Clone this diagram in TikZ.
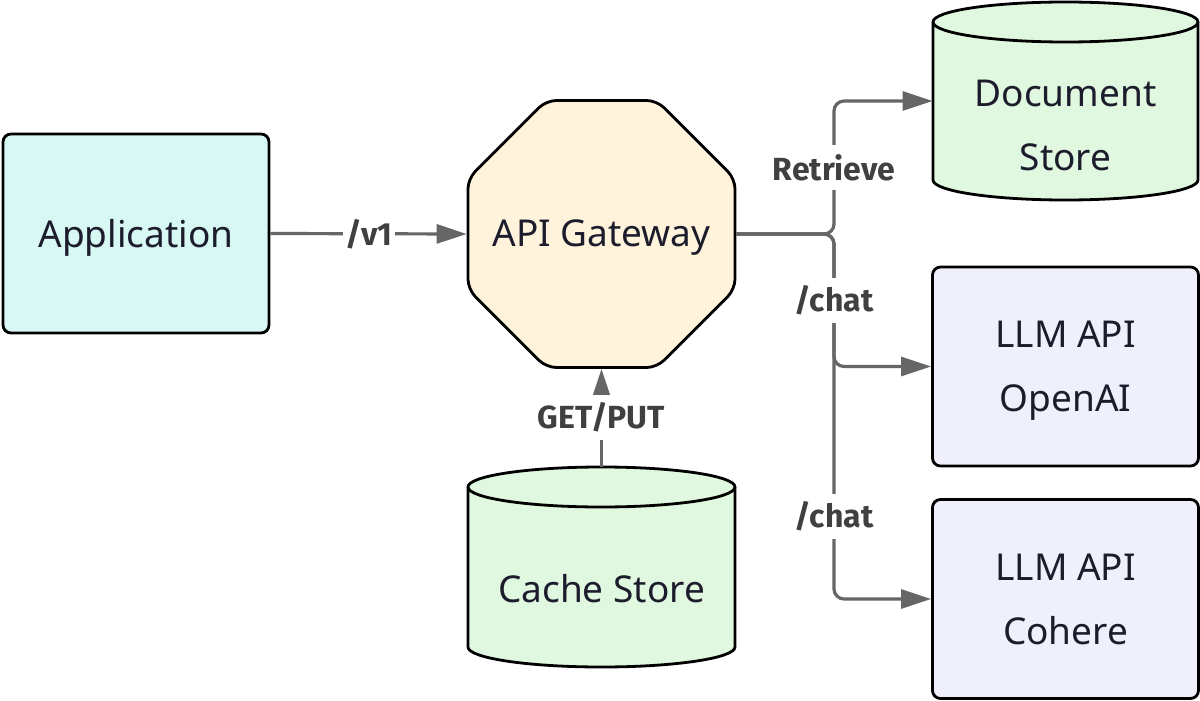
\documentclass[tikz,border=0pt]{standalone}
\usepackage{fontspec}
\setmainfont{Noto Sans}
\newfontfamily\labfont{Fira Sans}
\usetikzlibrary{arrows.meta,shapes.geometric}
\definecolor{appfill}{HTML}{D7F8F3}
\definecolor{gwfill}{HTML}{FFF3DC}
\definecolor{greenfill}{HTML}{E1F8E0}
\definecolor{lavfill}{HTML}{F0F0FC}
\definecolor{conncol}{HTML}{666666}
\definecolor{labcol}{HTML}{404040}
\definecolor{txtcol}{HTML}{1C1C2C}
\tikzset{
  nodetext/.style={font=\fontsize{18.5pt}{32pt}\selectfont, text=txtcol, align=center},
  boxnode/.style={nodetext, text depth=0pt, draw=black, line width=1.4pt, rounded corners=4pt, minimum width=133pt, minimum height=99.5pt, inner sep=0pt},
  cylarea/.style={nodetext, minimum width=132.5pt, minimum height=99pt, inner sep=0pt},
  cylbody/.style={draw=black, line width=1.4pt, fill=greenfill},
  octnode/.style={regular polygon, regular polygon sides=8, minimum size=144.5pt, inner sep=0pt, draw=black, line width=1.4pt, fill=gwfill, rounded corners=5pt},
  conn/.style={draw=conncol, line width=1.6pt, rounded corners=5pt, -{Triangle[length=15pt,width=9.5pt]}},
  lab/.style={font=\fontsize{16pt}{18pt}\selectfont\labfont\bfseries, text=labcol, fill=white, inner xsep=1pt, inner ysep=0pt, minimum height=22.5pt},
}
\begin{document}
\begin{tikzpicture}[x=0.5pt, y=-0.5pt]
\path[fill=white] (0,0) rectangle (1200,701);
\useasboundingbox (0,0) rectangle (1200,701);

% Cylinders (drawn shapes)
\path[cylbody] (933,22) -- (933,180) arc[start angle=180,end angle=360,x radius=66.25pt,y radius=10pt] -- (1198,22) arc[start angle=0,end angle=180,x radius=66.25pt,y radius=10pt] -- cycle;
\draw[line width=1.4pt] (933,22) arc[start angle=180,end angle=360,x radius=66.25pt,y radius=10pt];
\path[cylbody] (468,487) -- (468,647) arc[start angle=180,end angle=360,x radius=66.75pt,y radius=10pt] -- (735,487) arc[start angle=0,end angle=180,x radius=66.75pt,y radius=10pt] -- cycle;
\draw[line width=1.4pt] (468,487) arc[start angle=180,end angle=360,x radius=66.75pt,y radius=10pt];

% Nodes
\node[boxnode, fill=appfill] (app) at (136,233.5) {Application};
\node[octnode] (gw) at (601.5,234) {};
\node[nodetext, text depth=0pt] (gwtext) at (601.5,233) {API Gateway};
\node[cylarea, minimum width=133.5pt, minimum height=100pt] (cache) at (601.5,567) {};
\node[nodetext] (cachetext) at (601.5,589) {Cache Store};
\node[cylarea, minimum height=99pt] (doc) at (1065.5,101) {};
\node[nodetext] (doctext) at (1065.5,125) {Document\\Store};
\node[boxnode, fill=lavfill] (openai) at (1065.5,366.5) {LLM API\\OpenAI};
\node[boxnode, fill=lavfill] (cohere) at (1065.5,599) {LLM API\\Cohere};

% Connectors
\coordinate (j) at (834,234);
\draw[conn] (app.east) -- (gw.west);
\draw[conn] (cache.north) -- (gw.south);
\draw[conn] (gw.east) -- (j) |- (doc.west);
\draw[conn] (gw.east) -- (j) |- (openai.west);
\draw[conn] (gw.east) -- (j) |- (cohere.west);

% Labels
\node[lab] (lv1) at (369,234) {/v1};
\node[lab] (lget) at (601.5,417) {GET/PUT};
\node[lab] (lret) at (834,168) {Retrieve};
\node[lab] (lchat1) at (834,300) {/chat};
\node[lab] (lchat2) at (834,516) {/chat};
\end{tikzpicture}
\end{document}
